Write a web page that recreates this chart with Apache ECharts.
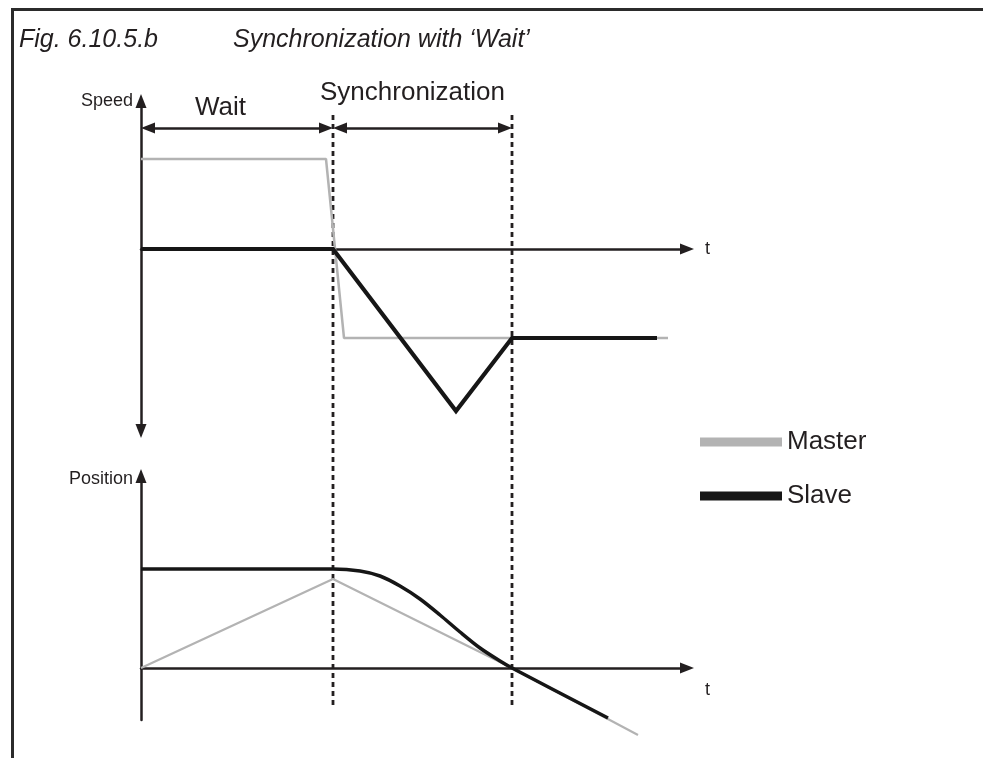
<!DOCTYPE html>
<html>
<head>
<meta charset="utf-8">
<title>Synchronization with ‘Wait’</title>
<script src="https://cdn.jsdelivr.net/npm/echarts@6/dist/echarts.min.js"></script>
<style>
  html, body { margin: 0; padding: 0; background: #ffffff; overflow: hidden; }
  #chart { position: absolute; left: 0; top: 0; width: 983px; height: 758px; }
  #frame {
    position: absolute; left: 11px; top: 8px; width: 990px; height: 770px;
    border-top: 3px solid #2b2b2b; border-left: 3px solid #2b2b2b;
    pointer-events: none;
  }
</style>
</head>
<body>
<div id="chart"></div>
<div id="frame"></div>
<script>
// Time base shared by both plots (arbitrary units)
const phaseBounds = [0, 19.2, 37.1];          // start, end of Wait, end of Synchronization
const phaseNames = ['Wait', 'Synchronization'];
const legendNames = ['Master', 'Slave'];

// Speed profiles
const masterSpeedT = [0, 18.5, 20.3, 52.7];
const masterSpeedV = [9.0, 9.0, -8.9, -8.9];
const slaveSpeedT = [0, 19.2, 31.5, 37.1, 51.6];
const slaveSpeedV = [0, 0, -16.2, -8.9, -8.9];

// Position profiles
const masterPosT = [0, 19.2, 37.1, 49.7];
const masterPosV = [0, 8.9, 0, -6.7];
const slavePosT = [0, 19.2, 21.9, 23.9, 25.9, 27.9, 29.9, 31.9, 33.9, 35.9, 37.1, 46.7];
const slavePosV = [9.9, 9.9, 9.7, 9.2, 8.2, 6.9, 5.3, 3.6, 2.0, 0.7, 0, -5.0];

const FONT = '"Liberation Sans", Arial, Helvetica, sans-serif';
const INK = '#231f20';
const MASTER_COLOR = '#b3b3b3';
const SLAVE_COLOR = '#161616';
const T_MAX = 54.6;
const ARROW_INSET = 0.7;   // half arrow-head length in time units

const pairs = (t, v) => t.map((x, i) => [x, v[i]]);

const arrowAxisLine = (symbols) => ({
  show: true,
  onZero: true,
  symbol: symbols,
  symbolSize: [11, 14],
  lineStyle: { color: INK, width: 2.5 }
});

const bare = {
  axisTick: { show: false },
  axisLabel: { show: false },
  splitLine: { show: false }
};

const phaseArrowY = 12.1;
const phaseArrows = [];
for (let i = 0; i < phaseNames.length; i++) {
  phaseArrows.push([
    { coord: [phaseBounds[i] + ARROW_INSET, phaseArrowY] },
    { coord: [phaseBounds[i + 1] - ARROW_INSET, phaseArrowY] }
  ]);
}

const boundarySeries = phaseBounds.slice(1).map((b) => ({
  type: 'line',
  name: 'boundary',
  xAxisIndex: 2,
  yAxisIndex: 2,
  data: [[b, 0], [b, 1]],
  symbol: 'none',
  silent: true,
  lineStyle: { color: INK, width: 2.8, type: [5, 4] },
  z: 1
}));

const chart = echarts.init(document.getElementById('chart'), null, { renderer: 'canvas' });

chart.setOption({
  animation: false,
  backgroundColor: '#ffffff',
  textStyle: { fontFamily: FONT, color: INK },
  title: [
    {
      text: 'Fig. 6.10.5.b', left: 19, top: 28, padding: 0,
      textStyle: { fontFamily: FONT, fontSize: 25, fontStyle: 'italic', fontWeight: 'normal', color: INK }
    },
    {
      text: 'Synchronization with ‘Wait’', left: 233, top: 28, padding: 0,
      textStyle: { fontFamily: FONT, fontSize: 25, fontStyle: 'italic', fontWeight: 'normal', color: INK }
    },
    {
      text: phaseNames[0], left: 195, top: 95, padding: 0,
      textStyle: { fontFamily: FONT, fontSize: 26, fontWeight: 'normal', color: INK }
    },
    {
      text: phaseNames[1], left: 320, top: 80, padding: 0,
      textStyle: { fontFamily: FONT, fontSize: 26, fontWeight: 'normal', color: INK }
    }
  ],
  legend: {
    data: legendNames,
    orient: 'vertical',
    left: 700,
    top: 429,
    padding: 0,
    itemGap: 28,
    itemWidth: 82,
    itemHeight: 9,
    icon: 'rect',
    selectedMode: false,
    textStyle: { fontFamily: FONT, fontSize: 26, color: INK, lineHeight: 26 }
  },
  grid: [
    { left: 141, top: 101, width: 546, height: 330 },
    { left: 141, top: 476, width: 546, height: 244 },
    { left: 141, top: 115, width: 546, height: 590 }
  ],
  xAxis: [
    Object.assign({
      type: 'value', gridIndex: 0, min: 0, max: T_MAX,
      axisLine: arrowAxisLine(['none', 'triangle']),
      name: 't', nameLocation: 'end', nameGap: 18,
      nameTextStyle: { fontFamily: FONT, fontSize: 18, color: INK, verticalAlign: 'middle', align: 'left' }
    }, bare),
    Object.assign({
      type: 'value', gridIndex: 1, min: 0, max: T_MAX,
      axisLine: arrowAxisLine(['none', 'triangle']),
      name: 't', nameLocation: 'end', nameGap: 18,
      nameTextStyle: { fontFamily: FONT, fontSize: 18, color: INK, verticalAlign: 'top', align: 'left', lineHeight: 44 }
    }, bare),
    Object.assign({ type: 'value', gridIndex: 2, min: 0, max: T_MAX, show: false }, bare)
  ],
  yAxis: [
    Object.assign({
      type: 'value', gridIndex: 0, min: -18.2, max: 14.8,
      axisLine: arrowAxisLine(['triangle', 'triangle']),
      name: 'Speed', nameLocation: 'end', nameGap: 0,
      nameTextStyle: { fontFamily: FONT, fontSize: 18, color: INK, align: 'right', verticalAlign: 'middle', padding: [0, 8, 0, 0] }
    }, bare),
    Object.assign({
      type: 'value', gridIndex: 1, min: -5.2, max: 19.2,
      axisLine: arrowAxisLine(['none', 'triangle']),
      name: 'Position', nameLocation: 'end', nameGap: -3,
      nameTextStyle: { fontFamily: FONT, fontSize: 18, color: INK, align: 'right', verticalAlign: 'middle', padding: [0, 8, 0, 0] }
    }, bare),
    Object.assign({ type: 'value', gridIndex: 2, min: 0, max: 1, show: false }, bare)
  ],
  series: boundarySeries.concat([
    {
      type: 'line', name: legendNames[0], xAxisIndex: 0, yAxisIndex: 0,
      data: pairs(masterSpeedT, masterSpeedV),
      symbol: 'none', clip: false, silent: true,
      color: MASTER_COLOR,
      lineStyle: { color: MASTER_COLOR, width: 2.5 },
      z: 2
    },
    {
      type: 'line', name: legendNames[1], xAxisIndex: 0, yAxisIndex: 0,
      data: pairs(slaveSpeedT, slaveSpeedV),
      symbol: 'none', clip: false, silent: true,
      color: SLAVE_COLOR,
      lineStyle: { color: SLAVE_COLOR, width: 4.2, join: 'miter' },
      z: 3,
      markLine: {
        silent: true,
        symbol: ['triangle', 'triangle'],
        symbolSize: [11, 14],
        label: { show: false },
        lineStyle: { color: INK, width: 2.5, type: 'solid' },
        emphasis: { disabled: true },
        data: phaseArrows
      }
    },
    {
      type: 'line', name: legendNames[0], xAxisIndex: 1, yAxisIndex: 1,
      data: pairs(masterPosT, masterPosV),
      symbol: 'none', clip: false, silent: true,
      color: MASTER_COLOR,
      lineStyle: { color: MASTER_COLOR, width: 2.2 },
      z: 2
    },
    {
      type: 'line', name: legendNames[1], xAxisIndex: 1, yAxisIndex: 1,
      data: pairs(slavePosT, slavePosV),
      symbol: 'none', clip: false, silent: true, smooth: 0.3,
      color: SLAVE_COLOR,
      lineStyle: { color: SLAVE_COLOR, width: 3.5 },
      z: 3
    }
  ])
});
</script>
</body>
</html>
